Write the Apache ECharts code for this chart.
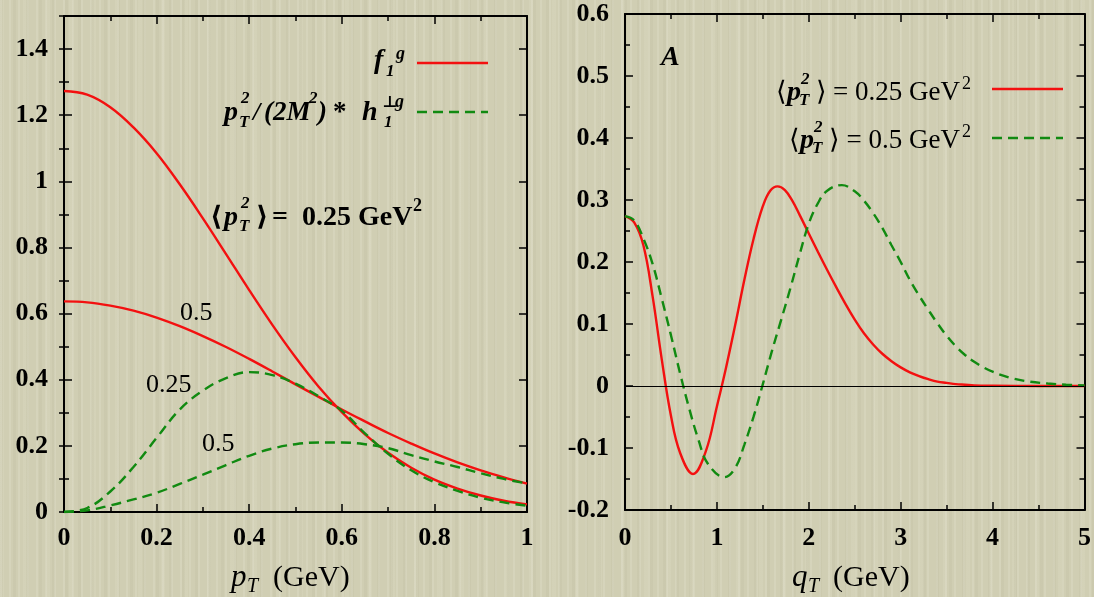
<!DOCTYPE html>
<html>
<head>
<meta charset="utf-8">
<script src="https://cdn.jsdelivr.net/npm/echarts@6/dist/echarts.min.js"></script>
<style>
html,body{margin:0;padding:0;width:1094px;height:597px;overflow:hidden;}
body{
  background-color:#d0ceb3;
  background-image:
    repeating-linear-gradient(90deg, rgba(255,255,245,0.12) 0px, rgba(255,255,245,0.12) 2px, rgba(0,0,0,0) 2px, rgba(0,0,0,0) 9px),
    repeating-linear-gradient(90deg, rgba(90,85,50,0.04) 0px, rgba(90,85,50,0.04) 3px, rgba(0,0,0,0) 3px, rgba(0,0,0,0) 13px),
    repeating-linear-gradient(90deg, rgba(255,255,240,0.08) 0px, rgba(255,255,240,0.08) 4px, rgba(0,0,0,0) 4px, rgba(0,0,0,0) 23px);
}
#chart{width:1094px;height:597px;}
</style>
</head>
<body>
<div id="chart"></div>
<script>
// ---------- data ----------
// left panel: pT (GeV)
const ptGrid = [0,0.05,0.1,0.15,0.2,0.25,0.3,0.35,0.4,0.45,0.5,0.55,0.6,0.65,0.7,0.75,0.8,0.85,0.9,0.95,1.0];
const f1_025 = [1.273,1.262,1.224,1.163,1.085,0.991,0.888,0.780,0.671,0.566,0.468,0.379,0.302,0.235,0.179,0.134,0.098,0.071,0.050,0.034,0.023];
const f1_05  = [0.637,0.634,0.624,0.609,0.588,0.562,0.532,0.499,0.463,0.425,0.386,0.348,0.310,0.274,0.239,0.207,0.177,0.150,0.126,0.105,0.086];
const h1_025 = [0,0.012,0.062,0.136,0.224,0.310,0.367,0.405,0.423,0.414,0.388,0.350,0.306,0.238,0.176,0.126,0.090,0.064,0.043,0.029,0.019];
const h1_05  = [0,0.005,0.020,0.038,0.058,0.085,0.113,0.142,0.170,0.192,0.205,0.210,0.210,0.205,0.193,0.172,0.153,0.136,0.117,0.100,0.086];

// right panel: qT (GeV)
const qtRed = [0,0.1,0.2,0.3,0.4,0.5,0.6,0.74,0.88,1.0,1.1,1.2,1.3,1.4,1.5,1.58,1.66,1.74,1.82,1.9,2.0,2.1,2.2,2.3,2.4,2.5,2.6,2.7,2.8,2.9,3.0,3.1,3.2,3.3,3.4,3.5,3.6,3.7,3.8,4.0,4.5,5.0];
const A_025 = [0.274,0.264,0.227,0.145,0.043,-0.048,-0.108,-0.142,-0.105,-0.033,0.030,0.099,0.172,0.238,0.290,0.315,0.322,0.316,0.299,0.276,0.246,0.216,0.187,0.159,0.132,0.107,0.085,0.067,0.052,0.040,0.030,0.022,0.016,0.011,0.007,0.005,0.003,0.002,0.001,0.0005,0,0];
const qtGreen = [0,0.1,0.2,0.3,0.4,0.5,0.6,0.7,0.8,0.9,1.08,1.2,1.3,1.4,1.5,1.6,1.7,1.8,1.9,2.0,2.1,2.2,2.36,2.5,2.6,2.7,2.8,2.9,3.0,3.1,3.2,3.3,3.4,3.5,3.6,3.7,3.8,3.9,4.0,4.2,4.4,4.6,4.8,5.0];
const A_05  = [0.274,0.267,0.238,0.197,0.141,0.082,0.020,-0.037,-0.087,-0.125,-0.147,-0.132,-0.094,-0.049,0.003,0.057,0.107,0.158,0.212,0.262,0.295,0.315,0.324,0.314,0.299,0.279,0.255,0.227,0.200,0.171,0.146,0.123,0.101,0.081,0.064,0.050,0.039,0.030,0.023,0.013,0.007,0.004,0.002,0.001];

// ---------- styling ----------
const RED = '#f31010', GREEN = '#118a11';
const SERIF = '"Liberation Serif","DejaVu Serif",serif';
const pair = (xs, ys) => xs.map((x, i) => [x, ys[i]]);

function axisBase(extra){
  return Object.assign({
    type:'value',
    axisLine:{show:true,onZero:false,lineStyle:{color:'#000',width:2}},
    axisTick:{show:true,inside:true,length:8,lineStyle:{color:'#000',width:1.5}},
    minorTick:{show:false},
    splitLine:{show:false},
    axisLabel:{show:false}
  }, extra);
}
function labels(margin, extra){
  return Object.assign({show:true,margin:margin,color:'#000',fontFamily:SERIF,fontSize:26,fontWeight:'bold'}, extra||{});
}
function minor(n){ return {show:true,splitNumber:n,length:5,lineStyle:{color:'#000',width:1.5}}; }

// text helper: baseline-based placement
function T(x, base, s, size, font, align){
  return {type:'text', x:x, y:base - 0.34*size, z:100,
    style:{text:s, font:(font||'') + ' ' + size + 'px ' + SERIF, fill:'#000',
      align:align||'left', verticalAlign:'middle'}};
}
function L(x1,x2,y,color,dash){
  return {type:'line', z:100, shape:{x1:x1,y1:y,x2:x2,y2:y},
    style:{stroke:color,lineWidth:2.4,lineDash:dash||null}};
}

const IB = 'italic bold';
const graphics = [
  // left legend line 1
  T(374,70,'f',28,IB), T(386,77,'1',17,IB), T(396,60,'g',18,IB),
  L(417,488,63,RED),
  // left legend line 2
  T(224,122,'p',28,IB), T(241,104,'2',17,IB), T(239,128,'T',17,IB),
  T(253,122,'/',26,IB), T(264,122,'(2M',27,IB), T(309,104,'2',17,IB),
  T(318,122,')',27,IB), T(333,122,'*',27,'bold'), T(362,122,'h',28,IB),
  T(382,108,'\u22A5',16,'bold'), T(384,128,'1',17,IB), T(395,108,'g',18,IB),
  L(417,488,112,GREEN,[10,6]),
  // left annotation
  T(210,227,'\u27E8',27,'bold'), T(224,227,'p',28,IB), T(241,209,'2',17,IB),
  T(239,232,'T',17,IB), T(256,227,'\u27E9',27,'bold'),
  T(272,227,'=  0.25 GeV',28,'bold'), T(413,212,'2',18,'bold'),
  T(180,322,'0.5',26,''), T(146,394,'0.25',26,''), T(202,453,'0.5',26,''),
  // left x axis title
  T(231,588,'p',31,'italic'), T(247,594,'T',20,'italic'), T(273,588,'(GeV)',30,''),
  // right panel
  T(661,67,'A',28,IB),
  T(776,102,'\u27E8',27,''), T(787,102,'p',28,IB), T(801,85,'2',17,IB),
  T(799,106,'T',17,IB), T(816,102,'\u27E9',27,''),
  T(960,102,'= 0.25 GeV',27,'','right'), T(962,90,'2',18,''),
  L(992,1063,89,RED),
  T(789,150,'\u27E8',27,''), T(800,150,'p',28,IB), T(814,133,'2',17,IB),
  T(812,154,'T',17,IB), T(829,150,'\u27E9',27,''),
  T(960,150,'= 0.5 GeV',27,'','right'), T(962,138,'2',18,''),
  L(992,1063,138,GREEN,[10,6]),
  // right x axis title
  T(792,588,'q',31,'italic'), T(808,594,'T',20,'italic'), T(833,588,'(GeV)',30,'')
];

const option = {
  animation:false,
  backgroundColor:'transparent',
  grid:[
    {left:64, top:16, width:463, height:496, show:false},
    {left:625, top:14, width:463, height:496, show:false}
  ],
  xAxis:[
    axisBase({gridIndex:0,position:'bottom',min:0,max:1,interval:0.2,minorTick:minor(2),
      axisLabel:labels(13)}),
    axisBase({gridIndex:0,position:'top',min:0,max:1,interval:0.2,minorTick:minor(2)}),
    axisBase({gridIndex:1,position:'bottom',min:0,max:5,interval:1,minorTick:minor(2),
      axisLabel:labels(15)}),
    axisBase({gridIndex:1,position:'top',min:0,max:5,interval:1,minorTick:minor(2)})
  ],
  yAxis:[
    axisBase({gridIndex:0,position:'left',min:0,max:1.5,interval:0.2,
      axisLabel:labels(16,{showMaxLabel:false})}),
    axisBase({gridIndex:0,position:'right',min:0,max:1.5,interval:0.2}),
    axisBase({gridIndex:0,position:'left',min:0,max:1.5,interval:0.1,
      axisLine:{show:false},axisTick:{show:true,inside:true,length:5,lineStyle:{color:'#000',width:1.5}}}),
    axisBase({gridIndex:0,position:'right',min:0,max:1.5,interval:0.1,
      axisLine:{show:false},axisTick:{show:true,inside:true,length:5,lineStyle:{color:'#000',width:1.5}}}),
    axisBase({gridIndex:1,position:'left',min:-0.2,max:0.6,interval:0.1,minorTick:minor(2),
      axisLabel:labels(16)}),
    axisBase({gridIndex:1,position:'right',min:-0.2,max:0.6,interval:0.1,minorTick:minor(2)})
  ],
  graphic:graphics,
  series:[
    {type:'line',xAxisIndex:0,yAxisIndex:0,data:pair(ptGrid,f1_025),smooth:0.4,showSymbol:false,
      lineStyle:{color:RED,width:2.4},z:3},
    {type:'line',xAxisIndex:0,yAxisIndex:0,data:pair(ptGrid,f1_05),smooth:0.4,showSymbol:false,
      lineStyle:{color:RED,width:2.4},z:3},
    {type:'line',xAxisIndex:0,yAxisIndex:0,data:pair(ptGrid,h1_025),smooth:0.4,showSymbol:false,
      lineStyle:{color:GREEN,width:2.4,type:[10,6]},z:4},
    {type:'line',xAxisIndex:0,yAxisIndex:0,data:pair(ptGrid,h1_05),smooth:0.4,showSymbol:false,
      lineStyle:{color:GREEN,width:2.4,type:[10,6]},z:4},
    {type:'line',xAxisIndex:2,yAxisIndex:4,data:pair(qtRed,A_025),smooth:0.4,showSymbol:false,
      lineStyle:{color:RED,width:2.4},z:3,
      markLine:{silent:true,symbol:'none',label:{show:false},
        lineStyle:{color:'#000',width:1,type:'solid'},data:[{yAxis:0}]}},
    {type:'line',xAxisIndex:2,yAxisIndex:4,data:pair(qtGreen,A_05),smooth:0.4,showSymbol:false,
      lineStyle:{color:GREEN,width:2.4,type:[10,6]},z:4}
  ]
};
const chart = echarts.init(document.getElementById('chart'), null, {renderer:'canvas'});
chart.setOption(option);
</script>
</body>
</html>
